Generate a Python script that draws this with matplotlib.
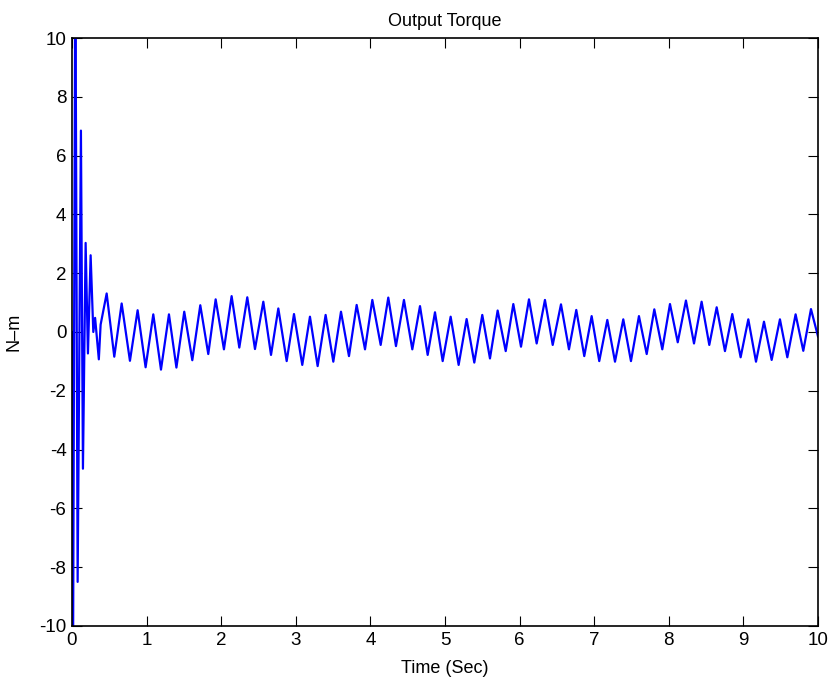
import matplotlib
matplotlib.use("Agg")
import matplotlib.pyplot as plt

plt.rcParams['font.family'] = ['Liberation Sans', 'DejaVu Sans']
plt.rcParams['axes.unicode_minus'] = False

# turning points of the torque trace
t_pts = [0.0, 0.012, 0.045, 0.076, 0.12, 0.147, 0.183, 0.214, 0.25, 0.286,
         0.31, 0.36, 0.384, 0.465, 0.567, 0.666, 0.777, 0.88, 0.987, 1.09,
         1.193, 1.30, 1.40, 1.505, 1.613, 1.72, 1.827, 1.926, 2.037, 2.14,
         2.243, 2.35, 2.453, 2.565, 2.668, 2.766, 2.878, 2.976, 3.087, 3.19,
         3.293, 3.40, 3.503, 3.606, 3.713, 3.816, 3.928, 4.026, 4.138, 4.24,
         4.343, 4.45, 4.562, 4.665, 4.768, 4.866, 4.969, 5.076, 5.183, 5.29,
         5.393, 5.50, 5.603, 5.706, 5.814, 5.916, 6.019, 6.126, 6.229, 6.34,
         6.444, 6.555, 6.662, 6.76, 6.867, 6.966, 7.068, 7.176, 7.279, 7.39,
         7.493, 7.60, 7.704, 7.806, 7.913, 8.016, 8.12, 8.23, 8.338, 8.44,
         8.543, 8.642, 8.753, 8.851, 8.963, 9.066, 9.169, 9.276, 9.379, 9.49,
         9.589, 9.70, 9.803, 9.906, 10.0]
torque = [0.0, -13.0, 13.0, -8.5, 6.85, -4.65, 3.03, -0.73, 2.61, 0.0,
          0.48, -0.93, 0.25, 1.31, -0.84, 0.97, -0.98, 0.74, -1.2, 0.60,
          -1.28, 0.60, -1.21, 0.69, -0.96, 0.91, -0.75, 1.11, -0.59, 1.22,
          -0.53, 1.18, -0.58, 1.03, -0.78, 0.80, -0.99, 0.61, -1.12, 0.52,
          -1.16, 0.58, -1.01, 0.69, -0.82, 0.92, -0.59, 1.09, -0.44, 1.17,
          -0.48, 1.09, -0.59, 0.88, -0.78, 0.67, -0.99, 0.52, -1.12, 0.44,
          -1.04, 0.58, -0.90, 0.73, -0.65, 0.95, -0.50, 1.11, -0.39, 1.09,
          -0.44, 0.94, -0.59, 0.75, -0.82, 0.54, -0.99, 0.41, -1.01, 0.43,
          -0.99, 0.54, -0.75, 0.77, -0.59, 0.95, -0.35, 1.07, -0.39, 1.03,
          -0.44, 0.84, -0.65, 0.61, -0.86, 0.43, -1.01, 0.35, -0.95, 0.43,
          -0.86, 0.60, -0.64, 0.78, -0.15]

x_ticks = list(range(0, 11))
y_ticks = list(range(-10, 11, 2))

fig = plt.figure(figsize=(8.34, 6.86), dpi=100)
ax = fig.add_axes([0.0863, 0.0875, 0.8945, 0.8571])

ax.plot(t_pts, torque, color=(0, 0, 1), lw=1.6, solid_joinstyle='round')

ax.set_xlim(0, 10)
ax.set_ylim(-10, 10)
ax.set_xticks(x_ticks)
ax.set_yticks(y_ticks)
ax.set_xticklabels([str(v) for v in x_ticks])
ax.set_yticklabels([str(v) for v in y_ticks])
ax.tick_params(direction='in', top=True, right=True, length=7, width=0.8,
               labelsize=13.5, pad=4)
for s in ax.spines.values():
    s.set_linewidth(1.2)

ax.set_title("Output Torque", fontsize=13, pad=9)
ax.set_xlabel("Time (Sec)", fontsize=13, labelpad=8)
ax.set_ylabel("N\u2013m", fontsize=13, labelpad=12)

fig.savefig("out.png", dpi=100)
